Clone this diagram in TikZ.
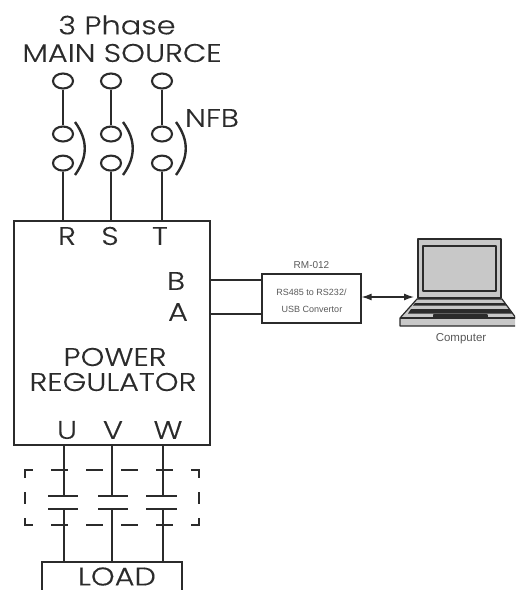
\documentclass[tikz,border=0pt]{standalone}
\usepackage{fontspec}
\usepackage{tikz}
\usetikzlibrary{positioning,shapes.geometric,arrows.meta}
\setmainfont[FakeStretch=1.19,FakeBold=0.3]{Poppins Light}
\newfontfamily\smallfont{Liberation Sans}
\definecolor{ink}{HTML}{2B2B2B}
\definecolor{lapgray}{HTML}{C8C8C8}
\tikzstyle{term}=[draw=ink,ellipse,line width=2.1pt,minimum width=20pt,minimum height=15pt,inner sep=0pt]
\tikzstyle{wire}=[draw=ink,line width=2.4pt]
\tikzstyle{plate}=[draw=ink,line width=2.2pt]
\tikzstyle{guard}=[draw=ink,line width=2.2pt]
\tikzstyle{big}=[font=\fontsize{25.5}{25.5}\selectfont,text=ink,inner sep=0pt]
\tikzstyle{tiny}=[font=\smallfont\fontsize{9}{9}\selectfont,text=black!65,inner sep=0pt]
\tikzstyle{lap}=[draw=ink,fill=lapgray,line width=1.2pt,line join=round]

\begin{document}
\begin{tikzpicture}[x=1pt,y=-1pt]
\useasboundingbox (0,0) rectangle (515,590);
\clip (0,0) rectangle (515,590);
\node (title) [big] at (117,25) {3 Phase};
\node (main) [big] at (122,53) {MAIN SOURCE};

\node (R1) [term] at (63,81) {};
\node (S1) [term] at (111,81) {};
\node (T1) [term] at (162,81) {};
\node (R2) [term] at (63,134) {};
\node (S2) [term] at (111,134) {};
\node (T2) [term] at (162,134) {};
\node (R3) [term,below=12pt of R2] {};
\node (S3) [term,below=12pt of S2] {};
\node (T3) [term,below=12pt of T2] {};
\node (nfb) [big] at (212,118) {NFB};

\node (reg) [wire,minimum width=196pt,minimum height=224pt,inner sep=0pt] at (112,333) {};
\node (Rin) [big] at (67,236) {R};
\node (Sin) [big] at (110,236) {S};
\node (Tin) [big] at (160,236) {T};
\node (Bin) [big] at (176,281) {B};
\node (Ain) [big] at (178,312) {A};
\node (pow) [big] at (115,357) {POWER};
\node (regl) [big] at (113,382) {REGULATOR};
\node (Uout) [big] at (67,430) {U};
\node (Vout) [big] at (113,430) {V};
\node (Wout) [big] at (168,430) {W};

\draw[wire] (R1.south) -- (R2.north);
\draw[wire] (S1.south) -- (S2.north);
\draw[wire] (T1.south) -- (T2.north);
\draw[wire] (R3.south) -- (R3.south |- reg.north);
\draw[wire] (S3.south) -- (S3.south |- reg.north);
\draw[wire] (T3.south) -- (T3.south |- reg.north);
% breaker arcs
\draw[wire] (75,122) .. controls (88,140) and (88,157) .. (75,175);
\draw[wire] (123,122) .. controls (136,140) and (136,157) .. (123,175);
\draw[wire] (176,122) .. controls (189,140) and (189,157) .. (176,175);

% contactor
\coordinate (Up) at (64,496);
\coordinate (Vp) at (112,496);
\coordinate (Wp) at (163,496);
\coordinate (Uq) at (64,509);
\coordinate (Vq) at (112,509);
\coordinate (Wq) at (163,509);
\node (load) [big] at (117,576.5) {LOAD};
\coordinate (Lt) at (112,562);
\draw[wire] (42,592) -- (42,562) -- (182,562) -- (182,592);
\draw[wire] (Up |- reg.south) -- (Up);
\draw[wire] (Vp |- reg.south) -- (Vp);
\draw[wire] (Wp |- reg.south) -- (Wp);
\draw[wire] (Uq) -- (Uq |- Lt);
\draw[wire] (Vq) -- (Vq |- Lt);
\draw[wire] (Wq) -- (Wq |- Lt);
\draw[plate] (48,496) -- (78,496);
\draw[plate] (98,496) -- (128,496);
\draw[plate] (146,496) -- (177,496);
\draw[plate] (48,509) -- (78,509);
\draw[plate] (98,509) -- (128,509);
\draw[plate] (146,509) -- (177,509);
\draw[guard] (25,478) -- (25,470) -- (33,470);
\draw[guard] (51,470) -- (68,470);
\draw[guard] (86,470) -- (103,470);
\draw[guard] (121,470) -- (138,470);
\draw[guard] (156,470) -- (173,470);
\draw[guard] (191,470) -- (199,470) -- (199,478);
\draw[guard] (25,492) -- (25,504);
\draw[guard] (199,492) -- (199,504);
\draw[guard] (25,518) -- (25,525) -- (33,525);
\draw[guard] (51,525) -- (68,525);
\draw[guard] (86,525) -- (103,525);
\draw[guard] (121,525) -- (138,525);
\draw[guard] (156,525) -- (173,525);
\draw[guard] (191,525) -- (199,525) -- (199,518);

% convertor
\node (conv) [draw=ink,line width=1.2pt,minimum width=99pt,minimum height=49pt,inner sep=0pt] at (311.5,298.5) {};
\node (rm) [tiny,font=\smallfont\fontsize{10}{10}\selectfont,above=5pt of conv] {RM-012};
\node (convtop) [tiny] at (311.5,292) {RS485 to RS232/};
\node (convbot) [tiny] at (312,309) {USB Convertor};
\coordinate (Bp) at (210,280);
\coordinate (Ap) at (210,314);
\draw[wire] (Bp) -- (Bp -| conv.west);
\draw[wire] (Ap) -- (Ap -| conv.west);

% laptop
\draw[lap] (400,318) -- (417,299) -- (502,299) -- (516,318) -- (516,326) -- (400,326) -- cycle;
\draw[lap] (400,318) -- (516,318);
\fill[ink] (415,303) -- (505,303) -- (506,305.5) -- (413,305.5) -- cycle;
\fill[ink] (411,309) -- (509,309) -- (512,313.5) -- (408,313.5) -- cycle;
\draw[lap,fill=ink] (434,315) -- (487,315) -- (487,317) -- (434,317) -- cycle;
\node (screen) [lap,minimum width=83pt,minimum height=59pt,inner sep=0pt] at (459.5,268.5) {};
\node (panel) [lap,minimum width=73pt,minimum height=45pt,inner sep=0pt] at (459.5,268.5) {};
\node (comp) [tiny,font=\smallfont\fontsize{11.5}{11.5}\selectfont] at (461,339) {Computer};
\coordinate (lapin) at (414,297);
\draw[{Latex[length=10pt,width=7pt]}-{Latex[length=10pt,width=7pt]},line width=1.3pt,draw=ink] (lapin -| conv.east) -- (lapin);
\end{tikzpicture}
\end{document}
